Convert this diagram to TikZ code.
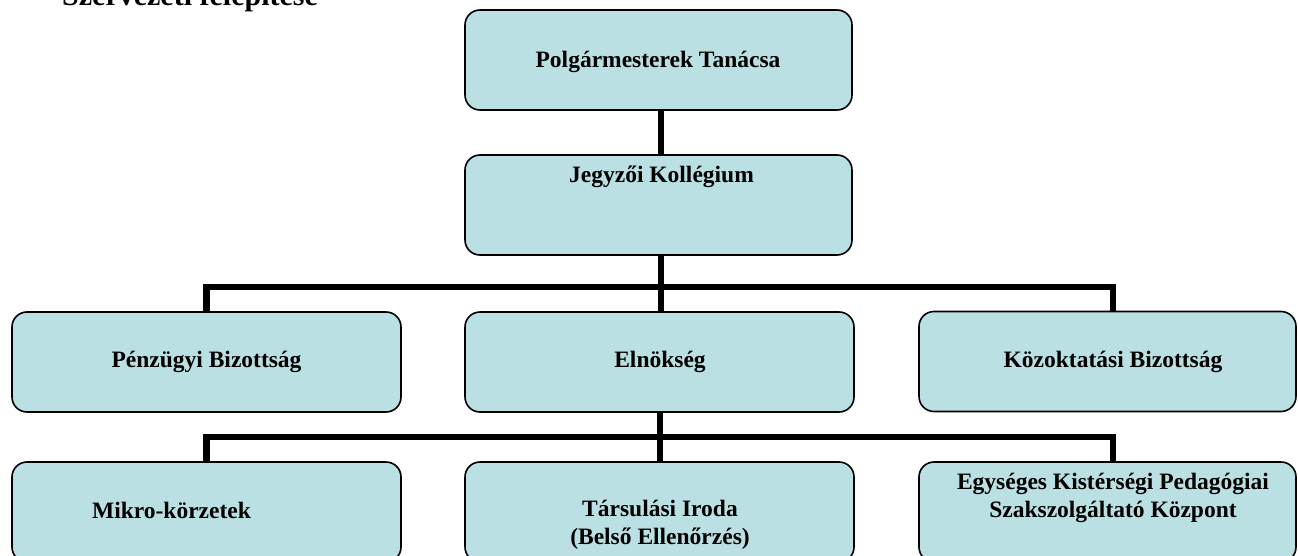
\documentclass[tikz,border=0pt]{standalone}
\usepackage{fontspec}
\setmainfont{Liberation Serif}
\definecolor{boxfill}{HTML}{BAE0E3}
\begin{document}
\begin{tikzpicture}[x=1pt,y=-1pt,
  orgbox/.style={draw=black, line width=1.6pt, fill=boxfill, rounded corners=15pt,
                 minimum height=100pt, inner sep=0pt},
  conn/.style={line width=6.5pt, black, line join=miter},
  lbl/.style={font=\fontsize{23.5}{28}\selectfont\bfseries, inner sep=0pt, align=center},
  ttl/.style={font=\fontsize{30}{34}\selectfont\bfseries, inner sep=0pt, anchor=base west}]
\useasboundingbox (0,0) rectangle (1298,556);
% title (cut by top edge)
\node[ttl] (title) at (62,6) {Szervezeti felépítése};
% boxes
\node[orgbox, minimum width=387pt] (pt) at (658.5,60) {};
\node[orgbox, minimum width=387pt] (jk) at (658.5,205) {};
\node[orgbox, minimum width=389pt] (pb) at (206.5,362) {};
\node[orgbox, minimum width=389pt] (el) at (659.5,362) {};
\node[orgbox, minimum width=377pt] (kb) at (1107.5,361.5) {};
\node[orgbox, minimum width=389pt] (mk) at (206.5,512) {};
\node[orgbox, minimum width=389pt] (ti) at (659.5,512) {};
\node[orgbox, minimum width=377pt] (ek) at (1107.5,512) {};
% junction coordinates
\coordinate (b1) at (661,287);
\coordinate (r1) at (1113,287);
\coordinate (b2) at (660,437);
\coordinate (r2) at (1113,437);
% connectors
\draw[conn] (pt.south -| b1) -- (jk.north -| b1);
\draw[conn] (jk.south -| b1) -- (el.north -| b1);
\draw[conn] (pb.north) |- (r1) -- (r1 |- kb.north);
\draw[conn] (el.south -| b2) -- (ti.north -| b2);
\draw[conn] (mk.north) |- (r2) -- (r2 |- ek.north);
% labels
\node[lbl, anchor=base] (tpt) at (658,68) {Polgármesterek Tanácsa};
\node[lbl, anchor=base] (tjk) at (661.5,183) {Jegyzői Kollégium};
\node[lbl, anchor=base] (tpb) at (206.5,367) {Pénzügyi Bizottság};
\node[lbl, anchor=base] (tel) at (660,367) {Elnökség};
\node[lbl, anchor=base] (tkb) at (1113,367) {Közoktatási Bizottság};
\node[lbl, anchor=base] (tmk) at (171.5,518) {Mikro-körzetek};
\node[lbl] (tti) at (660,524.5) {Társulási Iroda\\(Belső Ellenőrzés)};
\node[lbl] (tek) at (1113,497.5) {Egységes Kistérségi Pedagógiai\\Szakszolgáltató Központ};
\end{tikzpicture}
\end{document}
